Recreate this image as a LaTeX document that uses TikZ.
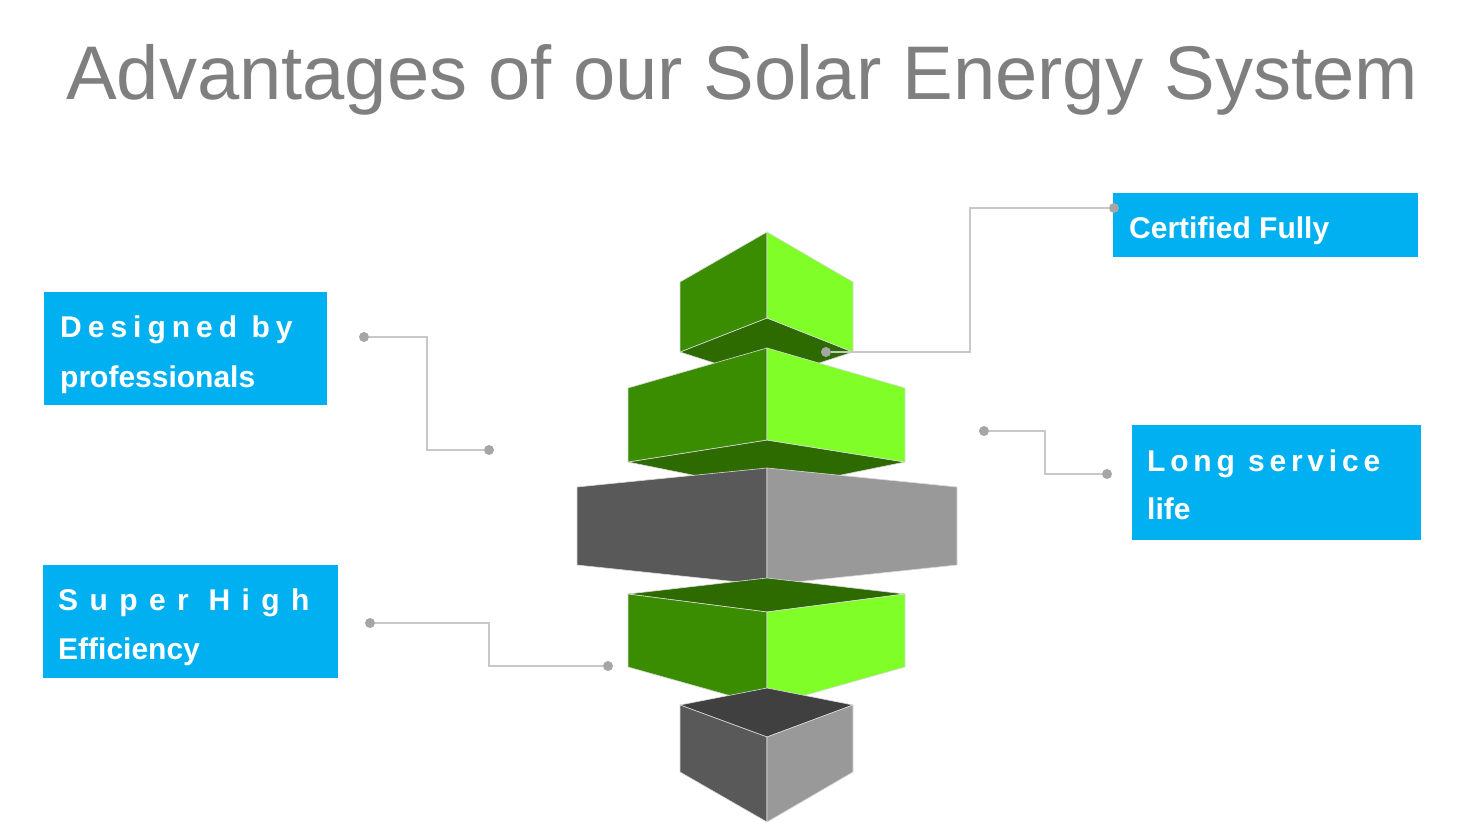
\documentclass[tikz,border=0pt]{standalone}
\usepackage{fontspec}
\setmainfont{Liberation Sans}
\definecolor{gD}{HTML}{3A8C00}\definecolor{gL}{HTML}{7FFF27}\definecolor{gB}{HTML}{2D6A00}
\definecolor{kD}{HTML}{595959}\definecolor{kL}{HTML}{999999}\definecolor{kB}{HTML}{404040}
\definecolor{blu}{HTML}{00B0F0}\definecolor{ttl}{HTML}{7F7F7F}
\definecolor{lnc}{HTML}{C8C8C8}\definecolor{dotc}{HTML}{A6A6A6}
\begin{document}
\begin{tikzpicture}[x=1pt,y=-1pt,
  face/.style={draw=white!85!black,line width=0.6pt,line join=round},
  lab/.style={fill=blu,text=white,font=\bfseries\fontsize{30}{48}\selectfont,align=left,anchor=north west,inner sep=0pt,text depth=0pt},
  conn/.style={draw=lnc,line width=1.2pt},
  dot/.style={circle,fill=dotc,inner sep=0pt,minimum size=10pt}]
\fill[white] (0,0) rectangle (1462,829);
\node[text=ttl,font=\fontsize{76}{80}\selectfont] (title) at (742,80) {Advantages of our Solar Energy System};
% block 1
\fill[face,fill=gB] (680,352) -- (767,318) -- (853,352) -- (767,380) -- cycle;
\fill[face,fill=gD] (767,232) -- (680,282) -- (680,352) -- (767,318) -- cycle;
\fill[face,fill=gL] (767,232) -- (853,282) -- (853,352) -- (767,318) -- cycle;
% block 2
\fill[face,fill=gB] (628,462) -- (767,440) -- (905,462) -- (767,490) -- cycle;
\fill[face,fill=gD] (767,348) -- (628,388) -- (628,462) -- (767,440) -- cycle;
\fill[face,fill=gL] (767,348) -- (905,388) -- (905,462) -- (767,440) -- cycle;
% block 3
\fill[face,fill=kD] (767,468) -- (577,487) -- (577,565) -- (767,585) -- cycle;
\fill[face,fill=kL] (767,468) -- (957,487) -- (957,565) -- (767,585) -- cycle;
% block 4
\fill[face,fill=gB] (628,594) -- (767,578) -- (905,594) -- (767,612) -- cycle;
\fill[face,fill=gD] (767,612) -- (628,594) -- (628,667) -- (767,706) -- cycle;
\fill[face,fill=gL] (767,612) -- (905,594) -- (905,667) -- (767,706) -- cycle;
% block 5
\fill[face,fill=kB] (680,705) -- (767,688) -- (853,705) -- (767,737) -- cycle;
\fill[face,fill=kD] (767,737) -- (680,705) -- (680,772) -- (767,822) -- cycle;
\fill[face,fill=kL] (767,737) -- (853,705) -- (853,772) -- (767,822) -- cycle;
% labels
\node[lab,minimum width=283pt,minimum height=113pt] (l1) at (44,292) {};
\node[lab,anchor=west] at (60,327) {\addfontfeature{LetterSpace=20}Designed by};
\node[lab,anchor=west] at (60,377) {professionals};
\node[lab,minimum width=295pt,minimum height=113pt] (l2) at (43,565) {};
\node[lab,anchor=west] at (58,600) {\addfontfeature{LetterSpace=38}Super High};
\node[lab,anchor=west] at (58,649) {Efficiency};
\node[lab,minimum width=305pt,minimum height=64pt] (l3) at (1113,193) {};
\node[lab,anchor=west] at (1129,228) {Certified Fully};
\node[lab,minimum width=289pt,minimum height=115pt] (l4) at (1132,425) {};
\node[lab,anchor=west] at (1147,461) {\addfontfeature{LetterSpace=16}Long service};
\node[lab,anchor=west] at (1147,509) {life};
% connectors
\node[dot] (a1) at (364,337) {}; \node[dot] (b1) at (489,450) {};
\draw[conn] (a1) -- (427,337) -- (427,450) -- (b1);
\node[dot] (a2) at (370,623) {}; \node[dot] (b2) at (608,666) {};
\draw[conn] (a2) -- (489,623) -- (489,666) -- (b2);
\node[dot] (a3) at (1114,208) {}; \node[dot] (b3) at (826,352) {};
\draw[conn] (a3) -- (970,208) -- (970,352) -- (b3);
\node[dot] (a4) at (984,431) {}; \node[dot] (b4) at (1107,474) {};
\draw[conn] (a4) -- (1045,431) -- (1045,474) -- (b4);
\end{tikzpicture}
\end{document}
